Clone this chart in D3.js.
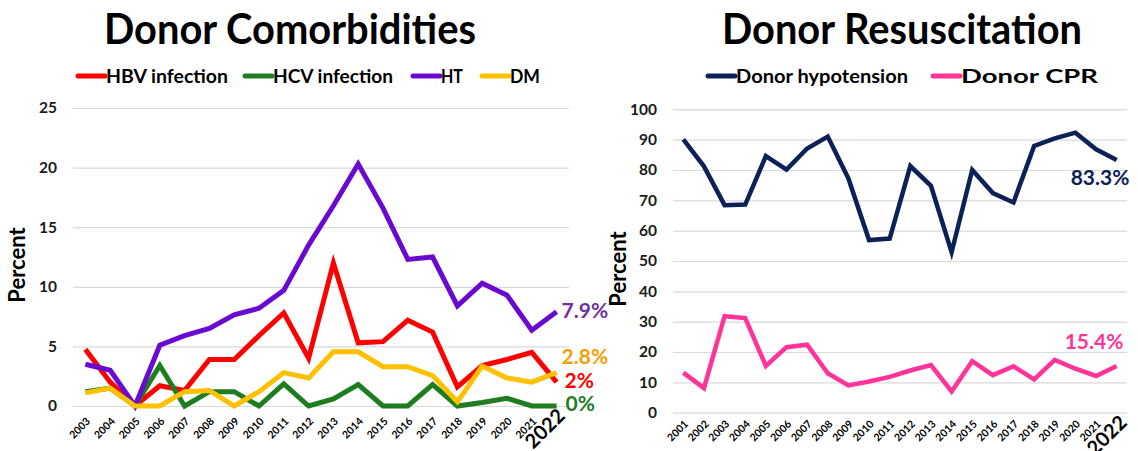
<!DOCTYPE html>
<html>
<head>
<meta charset="utf-8">
<script src="https://cdn.jsdelivr.net/npm/d3@7"></script>
<style>
  html, body { margin: 0; padding: 0; background: #ffffff; }
  svg { display: block; }
  text { font-family: Lato, "Open Sans", sans-serif; }
</style>
</head>
<body>
<svg id="chart" width="1138" height="451"></svg>
<script>
// ---- Donor comorbidities (percent of donors), 2003–2022 ----
const comorbYears = ["2003","2004","2005","2006","2007","2008","2009","2010","2011","2012",
                     "2013","2014","2015","2016","2017","2018","2019","2020","2021","2022"];
const hbv = [4.75, 2.0, 0, 1.7, 1.3, 3.9, 3.9, 5.9, 7.8, 4.0, 12.0, 5.3, 5.4, 7.2, 6.2, 1.6, 3.4, 3.9, 4.5, 2.0];
const hcv = [1.2, 1.5, 0, 3.4, 0, 1.2, 1.2, 0, 1.85, 0, 0.6, 1.8, 0, 0, 1.8, 0, 0.3, 0.65, 0, 0];
const ht  = [3.5, 3.0, 0, 5.1, 5.9, 6.5, 7.65, 8.2, 9.7, 13.5, 16.8, 20.3, 16.6, 12.3, 12.5, 8.4, 10.3, 9.3, 6.35, 7.9];
const dm  = [1.1, 1.5, 0, 0, 1.2, 1.3, 0, 1.2, 2.8, 2.35, 4.55, 4.55, 3.3, 3.3, 2.55, 0.35, 3.35, 2.35, 2.0, 2.8];
const comorbTicks = [0, 5, 10, 15, 20, 25];

// ---- Donor resuscitation (percent of donors), 2001–2022 ----
const resusYears = ["2001","2002","2003","2004","2005","2006","2007","2008","2009","2010","2011",
                    "2012","2013","2014","2015","2016","2017","2018","2019","2020","2021","2022"];
const hypotension = [90.1, 81.2, 68.4, 68.6, 84.6, 80.1, 87.1, 91.0, 77.2, 56.9, 57.4,
                     81.3, 74.8, 52.9, 80.0, 72.4, 69.3, 87.9, 90.4, 92.3, 86.8, 83.3];
const cpr = [13.2, 8.1, 31.8, 31.2, 15.4, 21.6, 22.4, 13.0, 9.0, 10.3, 11.8,
             13.9, 15.7, 7.0, 17.0, 12.4, 15.3, 11.0, 17.4, 14.5, 12.1, 15.4];
const resusTicks = [0, 10, 20, 30, 40, 50, 60, 70, 80, 90, 100];

const svg = d3.select("#chart");

function drawPanel(cfg) {
  const g = svg.append("g");
  const x = d3.scalePoint().domain(cfg.years).range([cfg.x0, cfg.x1]).padding(0.5);
  const y = d3.scaleLinear().domain([0, cfg.yMax]).range([cfg.y0, cfg.y1]);

  // title
  g.append("text")
    .attr("x", cfg.titleX).attr("y", 44)
    .attr("text-anchor", "middle")
    .attr("font-size", 42).attr("font-weight", 700).attr("fill", "#000")
    .attr("textLength", cfg.titleLen).attr("lengthAdjust", "spacingAndGlyphs")
    .text(cfg.title);

  // horizontal gridlines + y tick labels
  const yAxis = g.append("g")
    .attr("transform", `translate(${cfg.x0},0)`)
    .call(d3.axisLeft(y).tickValues(cfg.ticks).tickSize(-(cfg.x1 - cfg.x0)).tickPadding(16).tickFormat(d3.format("d")));
  yAxis.select(".domain").remove();
  yAxis.selectAll(".tick line").attr("stroke", "#d9d9d9").attr("stroke-width", 1.2);
  yAxis.selectAll(".tick text")
    .attr("font-family", "Lato, sans-serif").attr("font-size", 15.5).attr("font-weight", 700)
    .attr("fill", "#1a1a1a");

  // y axis title
  g.append("text")
    .attr("transform", `translate(${cfg.yTitleX},${(cfg.y0 + cfg.y1) / 2 + 8}) rotate(-90)`)
    .attr("text-anchor", "middle")
    .attr("font-size", 22).attr("font-weight", 700).attr("fill", "#000")
    .text("Percent");

  // x axis labels (rotated), last year emphasised
  const xAxis = g.append("g")
    .attr("transform", `translate(0,${cfg.y0})`)
    .call(d3.axisBottom(x).tickSize(0).tickPadding(0));
  xAxis.select(".domain").remove();
  const last = cfg.years[cfg.years.length - 1];
  xAxis.selectAll(".tick text")
    .attr("text-anchor", "end")
    .attr("font-family", "Lato, sans-serif")
    .attr("font-weight", 700)
    .attr("fill", "#000")
    .attr("font-size", d => d === last ? 20 : 10.5)
    .attr("y", 0)
    .attr("dy", 0)
    .attr("transform", d => d === last
      ? `translate(${cfg.lastDx},${cfg.lastDy}) rotate(-45)`
      : `translate(${cfg.smallDx},${cfg.smallDy}) rotate(-45)`);

  // series lines
  const line = d3.line().x((d, i) => x(cfg.years[i])).y(d => y(d)).curve(d3.curveLinear);
  cfg.series.forEach(s => {
    g.append("path")
      .datum(s.values)
      .attr("fill", "none")
      .attr("stroke", s.color)
      .attr("stroke-width", cfg.lineWidth)
      .attr("stroke-linejoin", "miter")
      .attr("stroke-linecap", "butt")
      .attr("d", line);
  });

  // end-of-line value labels
  cfg.series.forEach(s => {
    const v = s.values[s.values.length - 1];
    g.append("text")
      .attr("x", x(last) + s.lx).attr("y", y(v) + s.ly)
      .attr("font-size", 21).attr("font-weight", 700)
      .attr("fill", s.labelColor || s.color)
      .text(d3.format("~f")(v) + "%");
  });

  // legend
  const lg = g.append("g");
  cfg.legend.forEach(item => {
    const s = cfg.series[item.i];
    lg.append("line")
      .attr("x1", item.x).attr("x2", item.x + 27)
      .attr("y1", cfg.legendY).attr("y2", cfg.legendY)
      .attr("stroke", s.color).attr("stroke-width", 5).attr("stroke-linecap", "round");
    lg.append("text")
      .attr("x", item.x + 28).attr("y", cfg.legendY + 6.5)
      .attr("font-size", 18.5).attr("font-weight", 700).attr("fill", "#000")
      .attr("textLength", item.len).attr("lengthAdjust", "spacingAndGlyphs")
      .text(s.name);
  });
}

drawPanel({
  title: "Donor Comorbidities", titleX: 290, titleLen: 372,
  years: comorbYears, yMax: 25, ticks: comorbTicks,
  x0: 73, x1: 569, y0: 406, y1: 108,
  yTitleX: 25,
  lineWidth: 5,
  smallDx: 5, smallDy: 16, lastDx: 9, lastDy: 11,
  legendY: 76,
  series: [
    { name: "HBV infection", values: hbv, color: "#ff0000", lx: 8, ly: 6 },
    { name: "HCV infection", values: hcv, color: "#1e7d1e", lx: 9, ly: 5 },
    { name: "HT", values: ht, color: "#6a0ad0", labelColor: "#7030a0", lx: 5, ly: 6 },
    { name: "DM", values: dm, color: "#ffc000", labelColor: "#f5a000", lx: 5, ly: -9 }
  ],
  legend: [
    { i: 0, x: 78, len: 122 },
    { i: 1, x: 245, len: 120 },
    { i: 2, x: 413, len: 22 },
    { i: 3, x: 482, len: 30 }
  ]
});

drawPanel({
  title: "Donor Resuscitation", titleX: 902, titleLen: 360,
  years: resusYears, yMax: 100, ticks: resusTicks,
  x0: 673, x1: 1127, y0: 412.7, y1: 109.3,
  yTitleX: 626,
  lineWidth: 4.5,
  smallDx: 5, smallDy: 12, lastDx: 11, lastDy: 11,
  legendY: 76,
  series: [
    { name: "Donor hypotension", values: hypotension, color: "#0b2158", lx: -46, ly: 25 },
    { name: "Donor CPR", values: cpr, color: "#ff3399", lx: -52, ly: -17 }
  ],
  legend: [
    { i: 0, x: 708, len: 172 },
    { i: 1, x: 933, len: 137 }
  ]
});
</script>
</body>
</html>
